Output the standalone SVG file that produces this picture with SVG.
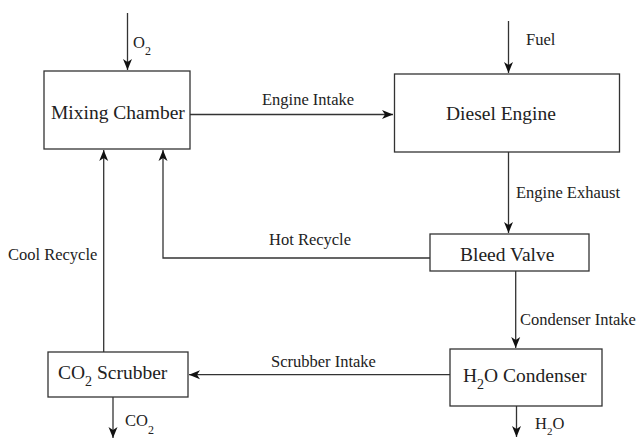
<svg xmlns="http://www.w3.org/2000/svg" width="643" height="439" viewBox="0 0 643 439">
<style>
.box{fill:#fff;stroke:#333;stroke-width:1.3}
.ln{fill:none;stroke:#333;stroke-width:1.3}
.nt{font-family:"Liberation Serif","Times New Roman",serif;font-size:19.5px;fill:#222}
.lb{font-family:"Liberation Serif","Times New Roman",serif;font-size:16.5px;fill:#222}
</style>
<defs>
<marker id="ah" markerUnits="userSpaceOnUse" markerWidth="12" markerHeight="10" viewBox="0 0 12 10" refX="11" refY="5" orient="auto">
<path d="M0,0.5 L11,5 L0,9.5 L3,5 z" fill="#111"/>
</marker>
</defs>
<rect width="643" height="439" fill="#fff"/>
<g id="connectors">
<path class="ln" d="M127.5,13 V70" marker-end="url(#ah)"/>
<text class="lb" x="133" y="48">O<tspan font-size="12" dy="7">2</tspan></text>
<path class="ln" d="M508.5,21 V73" marker-end="url(#ah)"/>
<text class="lb" x="526" y="45">Fuel</text>
<path class="ln" d="M190,114.5 H393" marker-end="url(#ah)"/>
<text class="lb" x="262" y="105">Engine Intake</text>
<path class="ln" d="M508.5,152 V233" marker-end="url(#ah)"/>
<text class="lb" x="516" y="198">Engine Exhaust</text>
<path class="ln" d="M430,258 H163 V150" marker-end="url(#ah)"/>
<text class="lb" x="269" y="245">Hot Recycle</text>
<path class="ln" d="M103.7,352 V150" marker-end="url(#ah)"/>
<text class="lb" x="8" y="260">Cool Recycle</text>
<path class="ln" d="M515.7,271 V348" marker-end="url(#ah)"/>
<text class="lb" x="520" y="325">Condenser Intake</text>
<path class="ln" d="M450,374.7 H189" marker-end="url(#ah)"/>
<text class="lb" x="271" y="367">Scrubber Intake</text>
<path class="ln" d="M113,397 V438" marker-end="url(#ah)"/>
<text class="lb" x="125" y="426">CO<tspan font-size="12" dy="8">2</tspan></text>
<path class="ln" d="M516.5,406 V437" marker-end="url(#ah)"/>
<text class="lb" x="535" y="429">H<tspan font-size="11" dy="6">2</tspan><tspan dy="-6">O</tspan></text>
</g>
<g id="mixing-chamber">
<rect class="box" x="44" y="71" width="146" height="78"/>
<text class="nt" x="51" y="119">Mixing Chamber</text>
</g>
<g id="diesel-engine">
<rect class="box" x="394.5" y="74" width="225" height="78"/>
<text class="nt" x="446" y="119.5" font-size="21px">Diesel Engine</text>
</g>
<g id="bleed-valve">
<rect class="box" x="430" y="234" width="159" height="37"/>
<text class="nt" x="460" y="261">Bleed Valve</text>
</g>
<g id="co2-scrubber">
<rect class="box" x="48" y="352" width="140" height="45"/>
<text class="nt" x="58" y="379">CO<tspan font-size="14" dy="7">2</tspan><tspan dy="-7"> Scrubber</tspan></text>
</g>
<g id="h2o-condenser">
<rect class="box" x="450" y="349" width="152" height="57"/>
<text class="nt" x="463" y="382">H<tspan font-size="14" dy="7">2</tspan><tspan dy="-7">O Condenser</tspan></text>
</g>
</svg>
